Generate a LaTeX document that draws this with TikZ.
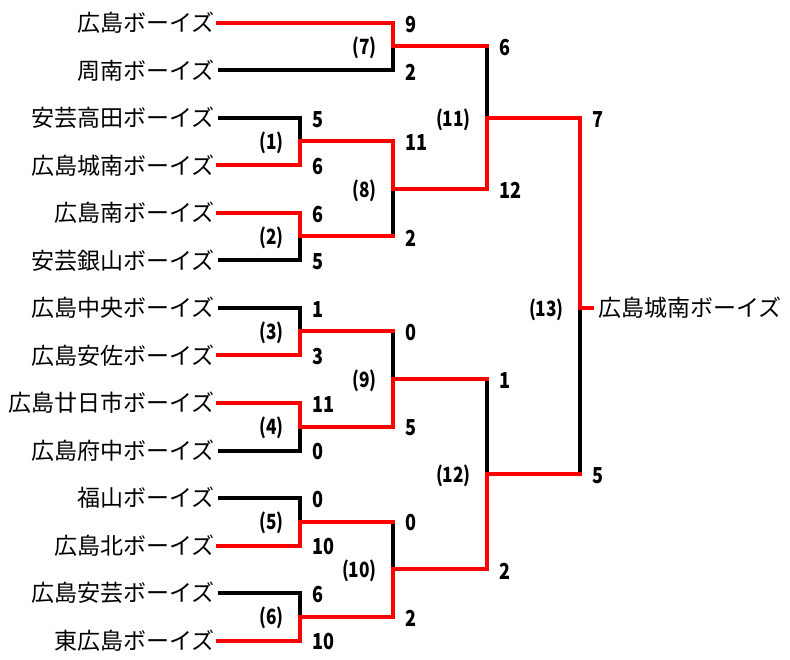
\documentclass[tikz,border=0pt]{standalone}
\usepackage{fontspec}
\setmainfont{Noto Sans CJK JP}
\newfontfamily\numfont[FakeStretch=0.82]{Noto Sans CJK JP}
\usepackage{tikz}
\usetikzlibrary{positioning, calc}
\definecolor{winred}{RGB}{255, 0, 0}
\tikzstyle{team} = [anchor=east, inner xsep=3pt, inner ysep=0pt, font=\fontsize{23}{26}\selectfont]
\tikzstyle{champ} = [anchor=west, inner xsep=6pt, inner ysep=0pt, font=\fontsize{23}{26}\selectfont]
\tikzstyle{score} = [anchor=west, inner sep=0pt, font=\numfont\bfseries\fontsize{22}{24}\selectfont]
\tikzstyle{match} = [anchor=east, inner sep=0pt, font=\numfont\bfseries\fontsize{21}{24}\selectfont]
\tikzstyle{win} = [line width=4pt, winred, line cap=rect]
\tikzstyle{lose} = [line width=4pt, black]

\begin{document}
\begin{tikzpicture}[x=1pt, y=-1pt]
    \useasboundingbox (0,0) rectangle (790,660);

    % teams
    \node[team] (t1) at (218,23) {広島ボーイズ};
    \node[team] (t2) at (218,70.5) {周南ボーイズ};
    \node[team] (t3) at (218,118) {安芸高田ボーイズ};
    \node[team] (t4) at (218,165.5) {広島城南ボーイズ};
    \node[team] (t5) at (218,213) {広島南ボーイズ};
    \node[team] (t6) at (218,260.5) {安芸銀山ボーイズ};
    \node[team] (t7) at (218,308) {広島中央ボーイズ};
    \node[team] (t8) at (218,355.5) {広島安佐ボーイズ};
    \node[team] (t9) at (218,403) {広島廿日市ボーイズ};
    \node[team] (t10) at (218,450.5) {広島府中ボーイズ};
    \node[team] (t11) at (218,498) {福山ボーイズ};
    \node[team] (t12) at (218,545.5) {広島北ボーイズ};
    \node[team] (t13) at (218,593) {広島安芸ボーイズ};
    \node[team] (t14) at (218,640.5) {東広島ボーイズ};

    % match points
    \coordinate (m1) at (300,141.5);
    \coordinate (m2) at (300,236.5);
    \coordinate (m3) at (300,331.5);
    \coordinate (m4) at (300,426.5);
    \coordinate (m5) at (300,521.5);
    \coordinate (m6) at (300,616.5);
    \coordinate (m7) at (393,46.5);
    \coordinate (m8) at (393,189);
    \coordinate (m9) at (393,379);
    \coordinate (m10) at (393,569);
    \coordinate (m11) at (487,118);
    \coordinate (m12) at (487,474);
    \coordinate (m13) at (580,308);
    \node[champ, right=12pt of m13] (final) {広島城南ボーイズ};

    % losers
    \draw[lose] (t2.east) -| (m7);
    \draw[lose] (t3.east) -| (m1);
    \draw[lose] (t6.east) -| (m2);
    \draw[lose] (t7.east) -| (m3);
    \draw[lose] (t10.east) -| (m4);
    \draw[lose] (t11.east) -| (m5);
    \draw[lose] (t13.east) -| (m6);
    \draw[lose] (m2 -| m8) -- (m8);
    \draw[lose] (m3 -| m9) -- (m9);
    \draw[lose] (m5 -| m10) -- (m10);
    \draw[lose] (m7 -| m11) -- (m11);
    \draw[lose] (m9 -| m12) -- (m12);
    \draw[lose] (m12 -| m13) -- (m13);

    % winners
    \draw[win] (t5.east) -| (m2) -- (m2 -| m8);
    \draw[win] (t8.east) -| (m3) -- (m3 -| m9);
    \draw[win] (t12.east) -| (m5) -- (m5 -| m10);
    \draw[win] (t1.east) -| (m7) -- (m7 -| m11);
    \draw[win] (t9.east) -| (m4) -| (m9) -- (m9 -| m12);
    \draw[win] (t14.east) -| (m6) -| (m10) -| (m12) -- (m12 -| m13);
    \draw[win] (t4.east) -| (m1) -| (m8) -| (m11) -| (m13) -- (final.west);

    % scores
    \node[score] (s1) at (312,120) {5};
    \node[score] (s2) at (312,167) {6};
    \node[score] (s3) at (312,215) {6};
    \node[score] (s4) at (312,262) {5};
    \node[score] (s5) at (312,310) {1};
    \node[score] (s6) at (312,357) {3};
    \node[score] (s7) at (312,405) {11};
    \node[score] (s8) at (312,452) {0};
    \node[score] (s9) at (312,500) {0};
    \node[score] (s10) at (312,547) {10};
    \node[score] (s11) at (312,595) {6};
    \node[score] (s12) at (312,642) {10};
    \node[score] (s13) at (405,25) {9};
    \node[score] (s14) at (405,72) {2};
    \node[score] (s15) at (405,143) {11};
    \node[score] (s16) at (405,238) {2};
    \node[score] (s17) at (405,333) {0};
    \node[score] (s18) at (405,428) {5};
    \node[score] (s19) at (405,523) {0};
    \node[score] (s20) at (405,618) {2};
    \node[score] (s21) at (499,48) {6};
    \node[score] (s22) at (499,190) {12};
    \node[score] (s23) at (499,381) {1};
    \node[score] (s24) at (499,571) {2};
    \node[score] (s25) at (592,120) {7};
    \node[score] (s26) at (592,476) {5};

    % match numbers
    \node[match] (n1) at (284,143) {(1)};
    \node[match] (n2) at (284,238) {(2)};
    \node[match] (n3) at (284,333) {(3)};
    \node[match] (n4) at (284,428) {(4)};
    \node[match] (n5) at (284,523) {(5)};
    \node[match] (n6) at (284,618) {(6)};
    \node[match] (n7) at (377,48) {(7)};
    \node[match] (n8) at (377,191) {(8)};
    \node[match] (n9) at (377,381) {(9)};
    \node[match] (n10) at (377,571) {(10)};
    \node[match] (n11) at (471,120) {(11)};
    \node[match] (n12) at (471,476) {(12)};
    \node[match] (n13) at (564,310) {(13)};
\end{tikzpicture}
\end{document}
